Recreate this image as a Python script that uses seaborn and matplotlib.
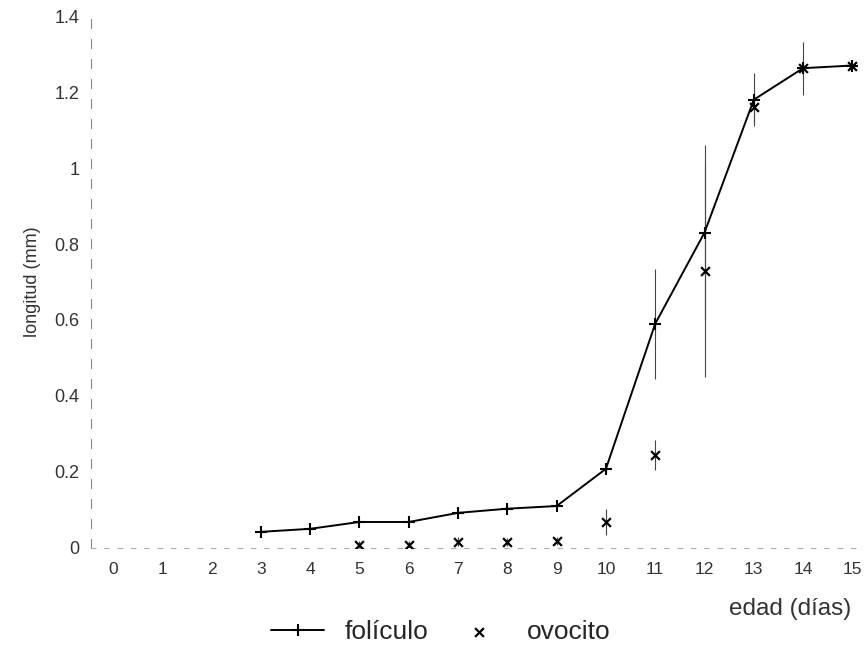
import matplotlib
matplotlib.use("Agg")
import matplotlib.pyplot as plt
import pandas as pd
import seaborn as sns

# edad (días)
dias_foliculo = [3, 4, 5, 6, 7, 8, 9, 10, 11, 12, 13, 14, 15]
foliculo = [0.042, 0.05, 0.068, 0.068, 0.092, 0.103, 0.11, 0.208, 0.59, 0.83, 1.18, 1.263, 1.27]
err_foliculo = [0.0, 0.0, 0.0, 0.0, 0.0, 0.0, 0.0, 0.01, 0.145, 0.23, 0.07, 0.07, 0.0]

dias_ovocito = [5, 6, 7, 8, 9, 10, 11, 12, 13, 14, 15]
ovocito = [0.008, 0.008, 0.016, 0.016, 0.018, 0.068, 0.245, 0.73, 1.16, 1.263, 1.27]
err_ovocito = [0.01, 0.01, 0.012, 0.01, 0.01, 0.035, 0.04, 0.28, 0.04, 0.0, 0.0]

x_ticks = list(range(0, 16))
y_ticks = [0, 0.2, 0.4, 0.6, 0.8, 1.0, 1.2, 1.4]
y_labels = ["0", "0.2", "0.4", "0.6", "0.8", "1", "1.2", "1.4"]

df_fol = pd.DataFrame({"edad": dias_foliculo, "longitud": foliculo, "err": err_foliculo})
df_ovo = pd.DataFrame({"edad": dias_ovocito, "longitud": ovocito, "err": err_ovocito})

sns.set_style("white")
plt.rcParams["font.family"] = ["Liberation Sans", "DejaVu Sans"]

fig = plt.figure(figsize=(8.64, 6.46), dpi=100)
ax = fig.add_axes([0.105, 0.152, 0.893, 0.823])

# error bars
ax.errorbar(df_fol["edad"], df_fol["longitud"], yerr=df_fol["err"], fmt="none",
            ecolor="#444444", elinewidth=0.8, capsize=0, zorder=1)
ax.errorbar(df_ovo["edad"], df_ovo["longitud"], yerr=df_ovo["err"], fmt="none",
            ecolor="#444444", elinewidth=0.8, capsize=0, zorder=1)

sns.lineplot(data=df_fol, x="edad", y="longitud", ax=ax, color="black", linewidth=1.4,
             marker="+", markersize=9, markeredgewidth=1.5, markeredgecolor="black",
             label="folículo", zorder=3)
sns.scatterplot(data=df_ovo, x="edad", y="longitud", ax=ax, color="black", marker="x",
                s=40, linewidth=1.6, label="ovocito", zorder=4)

ax.set_xlim(-0.45, 15.2)
ax.set_ylim(0, 1.4)
ax.set_xticks(x_ticks)
ax.set_yticks(y_ticks)
ax.set_yticklabels(y_labels)
ax.tick_params(axis="x", length=4, width=0.8, color="#888888", direction="in",
               labelsize=12.5, labelcolor="#333333", pad=10)
ax.tick_params(axis="y", length=0, labelsize=13, labelcolor="#333333", pad=8)

for side in ["top", "right"]:
    ax.spines[side].set_visible(False)
ax.spines["left"].set_color("#888888")
ax.spines["left"].set_linestyle((0, (8, 10)))
ax.spines["left"].set_linewidth(0.8)
ax.spines["bottom"].set_color("#aaaaaa")
ax.spines["bottom"].set_linestyle((0, (4, 8)))
ax.spines["bottom"].set_linewidth(0.8)

ax.set_ylabel("longitud (mm)", fontsize=13, color="#333333", labelpad=10)
ax.set_xlabel("")
fig.text(0.985, 0.058, "edad (días)", fontsize=17.5, color="#333333", ha="right", va="center")

ax.legend_.remove()
handles, labels = ax.get_legend_handles_labels()
fig.legend(handles, labels, loc="center", bbox_to_anchor=(0.51, 0.022), ncol=2,
           frameon=False, fontsize=19, handlelength=2.0, columnspacing=0.9,
           handletextpad=0.8, borderpad=0.0)

fig.savefig("out.png", dpi=100)
